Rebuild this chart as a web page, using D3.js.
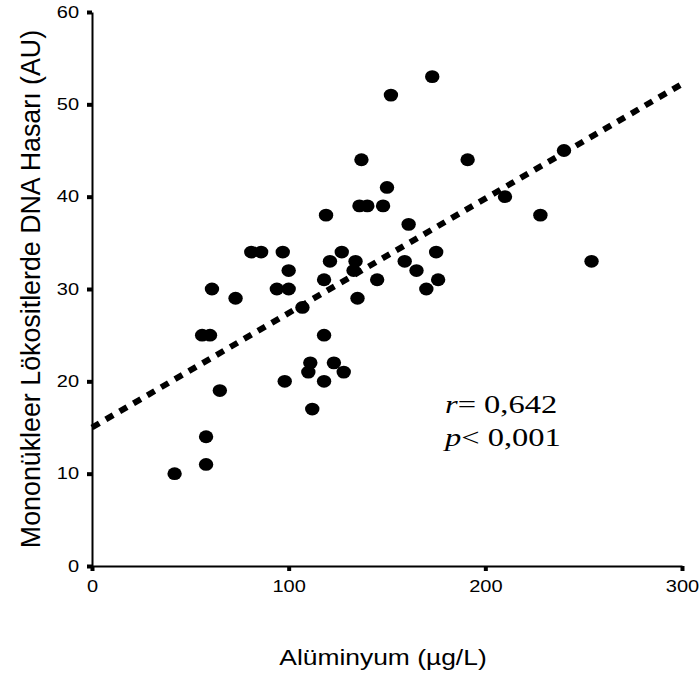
<!DOCTYPE html>
<html>
<head>
<meta charset="utf-8">
<script src="https://cdn.jsdelivr.net/npm/d3@7"></script>
<style>
  body { margin: 0; background: #fff; }
  svg { display: block; }
  .axis text { font-family: "Liberation Sans", Arial, sans-serif; font-size: 16px; fill: #000; }
</style>
</head>
<body>
<div id="chart"></div>
<script>
// aluminium level (µg/L) and DNA damage (AU) for each subject
const aluminium = [42, 58, 58, 56, 60, 61, 65, 73, 81, 86, 97, 94, 100, 100, 98, 107, 112, 111, 110, 118,
    118, 118, 123, 128, 119, 121, 127, 134, 133, 135, 137, 136, 140, 145, 148, 150, 152, 159, 161, 165,
    170, 173, 175, 176, 191, 210, 228, 240, 254];
const dnaDamage = [10, 14, 11, 25, 25, 30, 19, 29, 34, 34, 34, 30, 30, 32, 20, 28, 17, 22, 21, 20,
    25, 31, 22, 21, 38, 33, 34, 33, 32, 29, 44, 39, 39, 31, 39, 41, 51, 33, 37, 32,
    30, 53, 34, 31, 44, 40, 38, 45, 33];
const xTicks = [0, 100, 200, 300];
const yTicks = [0, 10, 20, 30, 40, 50, 60];
// fitted regression line
const fitIntercept = 15.0;
const fitSlope = 0.124;
const statLines = [['r', '= 0,642'], ['p', '< 0,001']];

const width = 700, height = 675;
const margin = { top: 12, right: 18, bottom: 109, left: 92 };

const svg = d3.select('#chart').append('svg')
    .attr('width', width)
    .attr('height', height);

const x = d3.scaleLinear().domain([0, 300]).range([margin.left, width - margin.right]);
const y = d3.scaleLinear().domain([0, 60]).range([height - margin.bottom, margin.top]);

// stretch text a bit wider like the original
function widen(sel, k) {
    sel.each(function() {
        const w = this.getComputedTextLength();
        d3.select(this).attr('textLength', w * k).attr('lengthAdjust', 'spacingAndGlyphs');
    });
}

// axes
svg.append('g')
    .attr('class', 'axis')
    .attr('transform', `translate(0,${y(0)})`)
    .call(d3.axisBottom(x).tickValues(xTicks).tickSizeInner(5).tickSizeOuter(0).tickPadding(10));
svg.append('g')
    .attr('class', 'axis')
    .attr('transform', `translate(${x(0)},0)`)
    .call(d3.axisLeft(y).tickValues(yTicks).tickSizeInner(5).tickSizeOuter(0).tickPadding(8));

svg.selectAll('.axis .domain').attr('stroke', '#000').attr('stroke-width', 2);
svg.selectAll('.axis .tick line').attr('stroke', '#000').attr('stroke-width', 4);
widen(svg.selectAll('.axis .tick text'), 1.25);

// regression line
svg.append('line')
    .attr('x1', x(0))
    .attr('y1', y(fitIntercept))
    .attr('x2', x(300))
    .attr('y2', y(fitIntercept + fitSlope * 300))
    .attr('stroke', '#000')
    .attr('stroke-width', 6)
    .attr('stroke-dasharray', '8.5,7.5');

// points
svg.append('g')
    .selectAll('ellipse')
    .data(aluminium.map((a, i) => [a, dnaDamage[i]]))
    .enter().append('ellipse')
    .attr('cx', d => x(d[0]))
    .attr('cy', d => y(d[1]))
    .attr('rx', 7.2)
    .attr('ry', 6.4)
    .attr('fill', '#000');

// stats
const stats = svg.append('g')
    .selectAll('text')
    .data(statLines)
    .enter().append('text')
    .attr('x', 445)
    .attr('y', (d, i) => 413 + i * 33)
    .attr('font-family', '"Liberation Serif", "Times New Roman", serif')
    .attr('font-size', 25)
    .attr('fill', '#000');
stats.append('tspan').attr('font-style', 'italic').text(d => d[0]);
stats.append('tspan').text(d => d[1]);
widen(stats, 1.3);

// axis labels
const xLabel = svg.append('text')
    .attr('x', 383)
    .attr('y', 665)
    .attr('text-anchor', 'middle')
    .attr('font-family', '"Liberation Sans", Arial, sans-serif')
    .attr('font-size', 22)
    .text('Alüminyum (µg/L)');
widen(xLabel, 1.2);

svg.append('text')
    .attr('transform', 'translate(40,289) rotate(-90)')
    .attr('text-anchor', 'middle')
    .attr('font-family', '"Liberation Sans", Arial, sans-serif')
    .attr('font-size', 26.8)
    .text('Mononükleer Lökositlerde DNA Hasarı (AU)');
</script>
</body>
</html>
